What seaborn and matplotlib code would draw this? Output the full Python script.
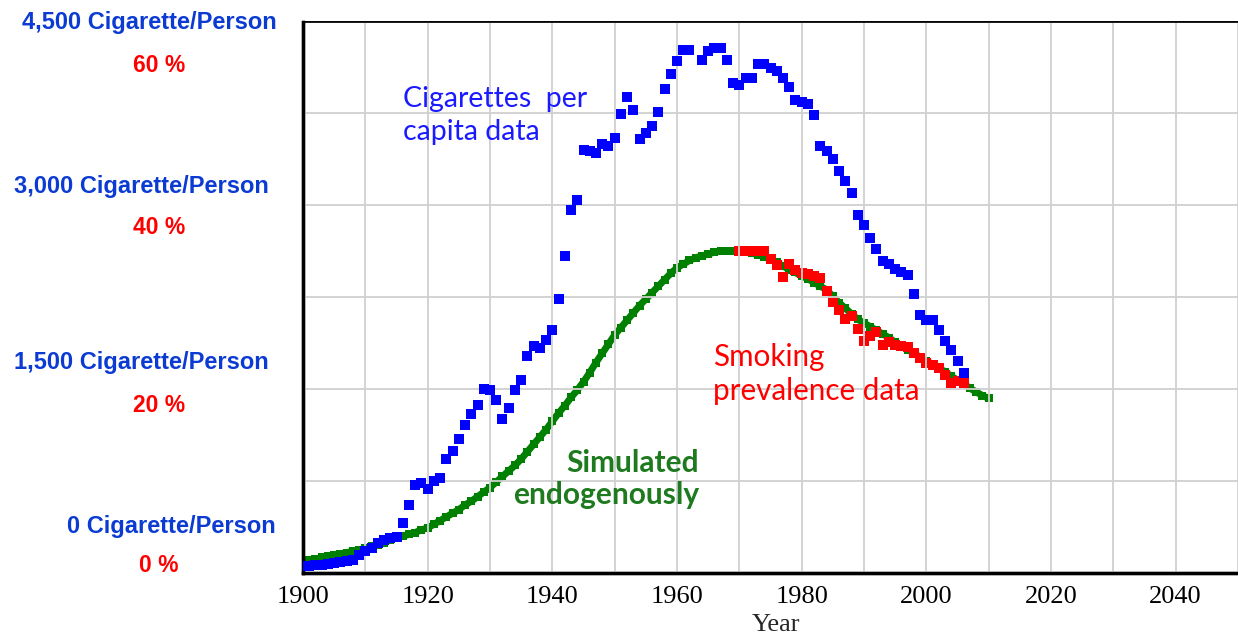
import numpy as np
import pandas as pd
import matplotlib
matplotlib.use("Agg")
import matplotlib.pyplot as plt
import seaborn as sns

# ---- data -------------------------------------------------------------
cig_years = list(range(1900, 2007))
cig_per_capita = [
    54, 60, 65, 68, 72, 80, 90, 100, 110, 150,          # 1900-1909
    180, 200, 245, 270, 285, 290, 410, 555, 716, 738,   # 1910-1919
    683, 751, 778, 928, 995, 1090, 1204, 1294, 1370, 1505,  # 1920-1929
    1491, 1410, 1260, 1350, 1492, 1576, 1768, 1850, 1836, 1904,  # 1930-1939
    1985, 2235, 2590, 2962, 3043, 3450, 3440, 3423, 3499, 3483,  # 1940-1949
    3553, 3749, 3884, 3776, 3540, 3594, 3648, 3762, 3952, 4074,  # 1950-1959
    4174, 4269, 4269, np.nan, 4183, 4256, 4286, 4286, 4188, 3998,  # 1960-1969
    3979, 4038, 4038, 4150, 4150, 4120, 4093, 4038, 3968, 3860,  # 1970-1979
    3843, 3830, 3735, 3485, 3445, 3377, 3282, 3198, 3098, 2921,  # 1980-1989
    2840, 2732, 2645, 2549, 2522, 2482, 2455, 2428, 2276, 2108,  # 1990-1999
    2062, 2062, 1985, 1890, 1817, 1727, 1633,                    # 2000-2006
]

prev_years = list(range(1970, 2007))
prevalence_pct = [
    35.0, 35.0, 35.0, 35.0, 35.0, 34.2, 33.5, 32.2, 33.6, 33.0,  # 1970-1979
    32.6, 32.5, 32.3, 32.1, 30.7, 29.5, 28.6, 27.6, 28.0, 26.5,  # 1980-1989
    25.2, 25.8, 26.2, 24.8, 25.1, 24.8, 24.7, 24.6, 23.9, 23.4,  # 1990-1999
    22.9, 22.6, 22.3, 21.5, 20.7, 20.9, 20.7,                    # 2000-2006
]

sim_years = list(range(1900, 2011))
simulated_pct = [
    1.3, 1.4, 1.5, 1.7, 1.8, 2.0, 2.1, 2.2, 2.4, 2.5,
    2.7, 2.9, 3.1, 3.3, 3.6, 3.8, 4.0, 4.2, 4.4, 4.7,
    4.9, 5.3, 5.7, 6.1, 6.5, 6.9, 7.4, 7.8, 8.3, 8.8,
    9.3, 9.9, 10.5, 11.1, 11.7, 12.4, 13.2, 14.0, 14.8, 15.6,
    16.5, 17.4, 18.2, 19.1, 19.9, 20.8, 21.8, 22.9, 23.9, 24.9,
    25.9, 26.7, 27.5, 28.3, 29.1, 29.8, 30.5, 31.2, 31.9, 32.6,
    33.2, 33.6, 34.0, 34.3, 34.5, 34.7, 34.9, 35.0, 35.0, 35.0,
    35.0, 34.9, 34.8, 34.6, 34.4, 34.1, 33.8, 33.4, 33.0, 32.7,
    32.3, 32.0, 31.6, 31.2, 30.8, 30.1, 29.4, 28.8, 28.2, 27.6,
    27.2, 26.8, 26.4, 26.0, 25.6, 25.1, 24.7, 24.3, 23.9, 23.5,
    23.1, 22.7, 22.3, 21.9, 21.4, 21.0, 20.6, 20.1, 19.7, 19.3,
    19.0,
]

cig_tick_labels = ["4,500 Cigarette/Person", "3,000 Cigarette/Person",
                   "1,500 Cigarette/Person", "0 Cigarette/Person"]
pct_tick_labels = ["60 %", "40 %", "20 %", "0 %"]
year_ticks = [1900, 1920, 1940, 1960, 1980, 2000, 2020, 2040]

# ---- style ------------------------------------------------------------
sns.set_style("white")
plt.rcParams["font.family"] = ["Liberation Sans", "DejaVu Sans"]

BLUE = "#0000ff"
RED = "#ff0000"
GREEN = "#008000"
LABEL_BLUE = "#0b3bd3"

W, H = 1238, 638
fig = plt.figure(figsize=(W / 100, H / 100), dpi=100)
ax = fig.add_axes([303 / W, 1 - 573 / H, 1 - 303 / W, (573 - 21.5) / H])
ax2 = ax.twinx()

ax.set_xlim(1900, 1900 + (W - 303) / 6.25)
ax.set_ylim(0, 4500)
ax2.set_ylim(0, 60)

# grid every 10 years and every 750 cigarettes
ax.set_xticks(np.arange(1900, 2051, 10))
ax.set_yticks(np.arange(0, 4501, 750))
ax.grid(True, color="#d0d0d0", linewidth=1.3)
ax.set_axisbelow(True)
ax.set_yticklabels([])
ax.set_xticklabels([])
ax.tick_params(length=0)
ax2.set_yticks([])
ax2.tick_params(length=0)

for a in (ax, ax2):
    a.spines["right"].set_visible(False)
    a.spines["left"].set_linewidth(2.4)
    a.spines["bottom"].set_linewidth(2.4)
    a.spines["top"].set_linewidth(1.2)
    for s in a.spines.values():
        s.set_color("black")

# ---- series -----------------------------------------------------------
df_cig = pd.DataFrame({"year": cig_years, "cig": cig_per_capita}).dropna()
df_prev = pd.DataFrame({"year": prev_years, "pct": prevalence_pct})
df_sim = pd.DataFrame({"year": sim_years, "pct": simulated_pct})

sns.lineplot(data=df_sim, x="year", y="pct", ax=ax2, color=GREEN,
             linewidth=5.0, legend=False)
sns.scatterplot(data=df_sim, x="year", y="pct", ax=ax2, color=GREEN,
                marker="s", s=34, linewidth=0, legend=False)
sns.scatterplot(data=df_prev, x="year", y="pct", ax=ax2, color=RED,
                marker="s", s=52, linewidth=0, legend=False, zorder=4)
sns.scatterplot(data=df_cig, x="year", y="cig", ax=ax, color=BLUE,
                marker="s", s=52, linewidth=0, legend=False, zorder=4)
for a in (ax, ax2):
    a.set_xlabel("")
    a.set_ylabel("")
ax.set_zorder(ax2.get_zorder() + 1)
ax.patch.set_visible(False)

# ---- year labels ------------------------------------------------------
serif = ["Liberation Serif", "DejaVu Serif"]
for yr in year_ticks:
    ax.annotate(str(yr), xy=(yr, 0), xycoords=("data", "axes fraction"),
                xytext=(0, -24), textcoords="offset pixels",
                ha="center", va="center", fontsize=19, family=serif,
                color="black", annotation_clip=False)
fig.text(776 / W, 1 - 625 / H, "Year", ha="center", va="center",
         fontsize=19, family=serif)

# ---- stacked axis labels ----------------------------------------------
blue_right = [277, 269, 269, 276]
blue_y = [23, 187, 363, 527]
red_center = 159
red_y = [65, 228, 405, 566]
for lab, xr, yy in zip(cig_tick_labels, blue_right, blue_y):
    fig.text(xr / W, 1 - yy / H, lab, ha="right", va="center",
             fontsize=17, fontweight="bold", color=LABEL_BLUE)
for lab, yy in zip(pct_tick_labels, red_y):
    fig.text(red_center / W, 1 - yy / H, lab, ha="center", va="center",
             fontsize=16.5, fontweight="bold", color=RED)

# ---- series annotations -----------------------------------------------
callout_font = ["Lato", "DejaVu Sans"]
ax.text(1916, 3733, "Cigarettes  per\ncapita data", ha="left", va="center",
        fontsize=20.5, color="#1a1aff", family=callout_font, linespacing=1.35)
ax.text(1965.8, 1624, "Smoking\nprevalence data", ha="left", va="center",
        fontsize=21.3, color=RED, family=callout_font, linespacing=1.3)
ax.text(1963.5, 767, "Simulated\nendogenously", ha="right", va="center",
        fontsize=21.5, color="#1e7a1e", family=callout_font,
        fontweight="bold", linespacing=1.2)

fig.savefig("out.png", dpi=100)
